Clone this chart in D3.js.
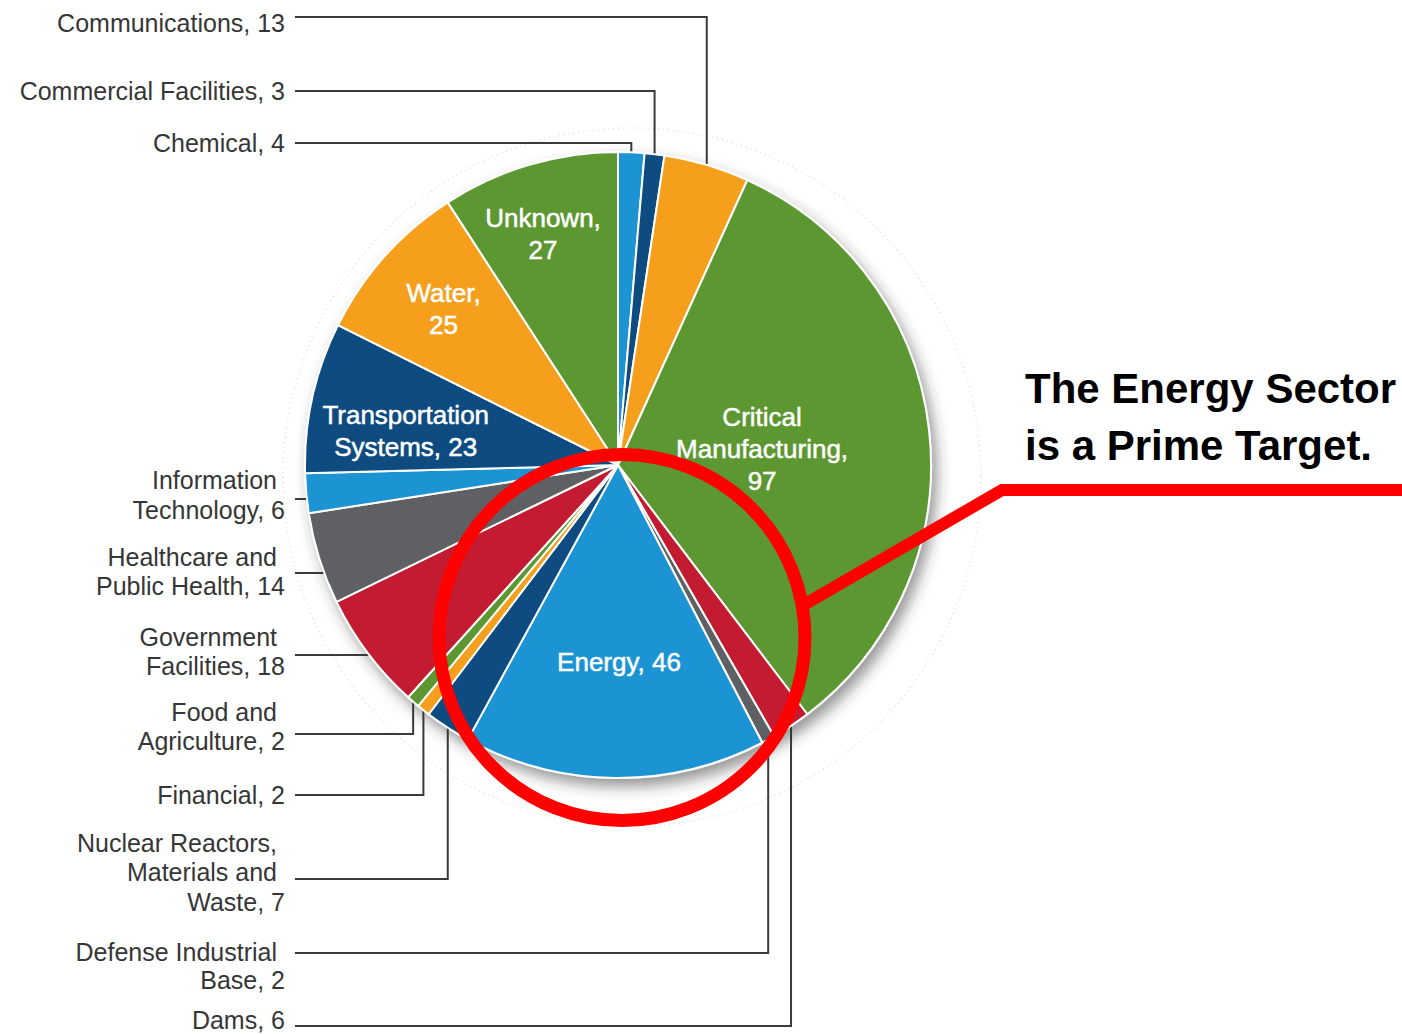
<!DOCTYPE html>
<html>
<head>
<meta charset="utf-8">
<script src="https://cdn.jsdelivr.net/npm/d3@7"></script>
<style>
  body { margin: 0; background: #fff; }
  svg { display: block; }
  .lbl { font-family: "Liberation Sans", Arial, sans-serif; font-size: 25px; fill: #363636; }
  .inlbl { font-family: "Liberation Sans", Arial, sans-serif; font-size: 26px; fill: #fff; stroke: #fff; stroke-width: 0.5px; }
  .title { font-family: "Liberation Sans", Arial, sans-serif; font-size: 42px; font-weight: bold; fill: #000; }
</style>
</head>
<body>
<svg id="chart" width="1402" height="1034"></svg>
<script>
// sectors, clockwise from 12 o'clock
const categories = ["Chemical", "Commercial Facilities", "Communications", "Critical Manufacturing",
  "Dams", "Defense Industrial Base", "Energy", "Nuclear Reactors, Materials and Waste",
  "Financial", "Food and Agriculture", "Government Facilities", "Healthcare and Public Health",
  "Information Technology", "Transportation Systems", "Water", "Unknown"];
const values = [4, 3, 13, 97, 6, 2, 46, 7, 2, 2, 18, 14, 6, 23, 25, 27];
const sliceColors = ["#1c93d2", "#0b4b80", "#f59f1f", "#5b9732", "#c31f30", "#5e6163",
  "#1c93d2", "#0b4b80", "#f59f1f", "#5b9732", "#c31f30", "#5e6163",
  "#1c93d2", "#0b4b80", "#f59f1f", "#5b9732"];

// outside labels: wrap = words per line, leader goes vertical (v) or horizontal to rim (h)
const outsideLabels = [
  { name: "Communications", wrap: [1], leaderY: 17, lineY: [23], route: "v" },
  { name: "Commercial Facilities", wrap: [2], leaderY: 91, lineY: [91], route: "v" },
  { name: "Chemical", wrap: [1], leaderY: 143, lineY: [143], route: "v" },
  { name: "Information Technology", wrap: [1, 1], leaderY: 499, lineY: [480, 510], route: "h" },
  { name: "Healthcare and Public Health", wrap: [2, 2], leaderY: 573, lineY: [557, 586], route: "h" },
  { name: "Government Facilities", wrap: [1, 1], leaderY: 655, lineY: [637, 666], route: "h" },
  { name: "Food and Agriculture", wrap: [2, 1], leaderY: 734, lineY: [712, 741], route: "v" },
  { name: "Financial", wrap: [1], leaderY: 795, lineY: [795], route: "v" },
  { name: "Nuclear Reactors, Materials and Waste", wrap: [2, 2, 1], leaderY: 879, lineY: [843, 872, 902], route: "v" },
  { name: "Defense Industrial Base", wrap: [2, 1], leaderY: 953, lineY: [952, 980], route: "v" },
  { name: "Dams", wrap: [1], leaderY: 1026, lineY: [1020], route: "v" }
];

// labels drawn inside the pie; sep = value on its own line, da = angle nudge (deg)
const insideLabels = [
  { name: "Unknown", wrap: [1], sep: true, r: 243, da: -1.5 },
  { name: "Water", wrap: [1], sep: true, r: 234, da: 0 },
  { name: "Transportation Systems", wrap: [1, 1], sep: false, r: 215, da: -3.4 },
  { name: "Critical Manufacturing", wrap: [1, 1], sep: true, r: 145, da: 0 },
  { name: "Energy", wrap: [1], sep: false, r: 197, da: -0.9 }
];

const cx = 618, cy = 465, R = 313;

const data = categories.map((c, i) => ({ name: c, value: values[i] }));
const color = d3.scaleOrdinal().domain(categories).range(sliceColors);
const arcs = d3.pie().sort(null).value(d => d.value)(data);
const byName = new Map(arcs.map(a => [a.data.name, a]));
const arc = d3.arc().innerRadius(0).outerRadius(R);

function wrapLines(name, wrap) {
  const words = name.split(" ");
  let k = 0;
  return wrap.map(n => { const s = words.slice(k, k + n).join(" "); k += n; return s; });
}
const mid = a => (a.startAngle + a.endAngle) / 2;

const svg = d3.select("#chart");

const defs = svg.append("defs");
const f = defs.append("filter").attr("id", "shadow")
  .attr("x", "-20%").attr("y", "-20%").attr("width", "140%").attr("height", "140%");
f.append("feDropShadow").attr("dx", 5).attr("dy", 8).attr("stdDeviation", 7)
  .attr("flood-color", "#333").attr("flood-opacity", 0.5);

// faint speckled halo behind the pie
svg.append("circle")
  .attr("cx", cx + 14).attr("cy", cy + 12).attr("r", R + 36)
  .attr("fill", "none").attr("stroke", "#ccc").attr("stroke-width", 1.5)
  .attr("stroke-dasharray", "1 4").attr("opacity", 0.6);

// leader lines + outside labels
const lab = svg.append("g");
outsideLabels.forEach(o => {
  const a = byName.get(o.name);
  const m = mid(a);
  let pts;
  if (o.route === "h") {
    const ex = cx - Math.sqrt(R * R - (o.leaderY - cy) ** 2);
    pts = [[295, o.leaderY], [ex, o.leaderY]];
  } else {
    const px = cx + R * Math.sin(m), py = cy - R * Math.cos(m);
    pts = [[295, o.leaderY], [px, o.leaderY], [px, py]];
  }
  lab.append("path")
    .attr("d", d3.line()(pts))
    .attr("fill", "none").attr("stroke", "#3a3a3a").attr("stroke-width", 2);

  const lines = wrapLines(o.name, o.wrap);
  lines[lines.length - 1] += ", " + a.data.value;
  lines.forEach((t, i) => {
    const last = i === lines.length - 1;
    lab.append("text").attr("class", "lbl")
      .attr("x", last ? 285 : 277).attr("y", o.lineY[i] + 9)
      .attr("text-anchor", "end").text(t);
  });
});

// pie
const pg = svg.append("g").attr("transform", `translate(${cx},${cy})`);
pg.append("g").attr("filter", "url(#shadow)")
  .selectAll("path").data(arcs).join("path")
  .attr("d", arc)
  .attr("fill", d => color(d.data.name))
  .attr("stroke", "#fff").attr("stroke-width", 2).attr("stroke-linejoin", "round");

insideLabels.forEach(o => {
  const a = byName.get(o.name);
  const m = mid(a) + o.da * Math.PI / 180;
  const x = o.r * Math.sin(m), y = -o.r * Math.cos(m);
  let lines = wrapLines(o.name, o.wrap);
  if (o.sep) { lines[lines.length - 1] += ","; lines.push(String(a.data.value)); }
  else lines[lines.length - 1] += ", " + a.data.value;
  const n = lines.length;
  lines.forEach((t, i) => {
    pg.append("text").attr("class", "inlbl")
      .attr("x", x).attr("y", y + (i - (n - 1) / 2) * 32 + 9)
      .attr("text-anchor", "middle").text(t);
  });
});

// red highlight ring and callout
const ring = { x: 622, y: 637.5, r: 183 };
svg.append("circle")
  .attr("cx", ring.x).attr("cy", ring.y).attr("r", ring.r)
  .attr("fill", "none").attr("stroke", "#ff0000").attr("stroke-width", 13);

const ang = -10 * Math.PI / 180;
svg.append("path")
  .attr("d", d3.line()([[ring.x + ring.r * Math.cos(ang), ring.y + ring.r * Math.sin(ang)], [1002, 490], [1402, 490]]))
  .attr("fill", "none").attr("stroke", "#ff0000").attr("stroke-width", 12);

svg.append("text").attr("class", "title").attr("x", 1025).attr("y", 403).text("The Energy Sector");
svg.append("text").attr("class", "title").attr("x", 1025).attr("y", 460).text("is a Prime Target.");
</script>
</body>
</html>
